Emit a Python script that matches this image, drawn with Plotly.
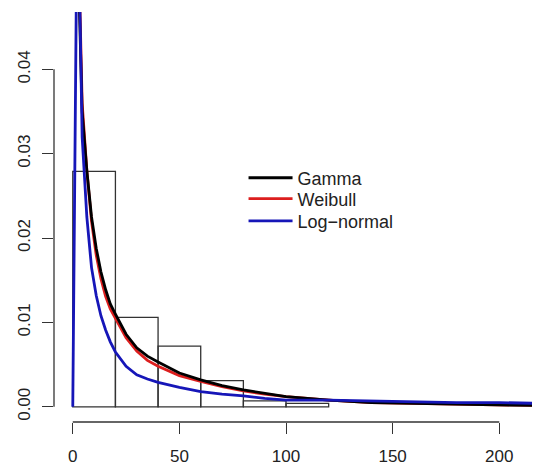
import plotly.graph_objects as go

# histograma (densidade)
breaks = [0, 20, 40, 60, 80, 100, 120]
dens = [0.0279, 0.0106, 0.0072, 0.0031, 0.0007, 0.0004]

# curvas
xs = [2.2, 4.4, 6.6, 8.8, 11, 13.2, 15.4, 17.6, 20, 25, 30, 35, 40, 50, 60,
      70, 80, 90, 100, 120, 140, 160, 180, 200, 220]
gamma = [0.056, 0.035, 0.028, 0.0225, 0.0188, 0.0160, 0.0139, 0.0122, 0.0110,
         0.0086, 0.0070, 0.0060, 0.0053, 0.0040, 0.0032, 0.0025, 0.0020,
         0.0016, 0.0012, 0.0008, 0.0005, 0.0004, 0.0003, 0.0002, 0.00015]
weibull = [0.060, 0.036, 0.028, 0.0220, 0.0180, 0.0152, 0.0131, 0.0116, 0.0105,
           0.0082, 0.0066, 0.0055, 0.0048, 0.0037, 0.0030, 0.0024, 0.0019,
           0.0015, 0.0012, 0.0008, 0.0005, 0.0004, 0.0003, 0.0002, 0.00015]
xs_ln = [0] + xs
lognorm = [0, 0.064, 0.032, 0.0225, 0.0165, 0.0132, 0.0108, 0.0091, 0.0077,
           0.0065, 0.0048, 0.0038, 0.0033, 0.0029, 0.0023, 0.0018, 0.0015,
           0.0013, 0.0010, 0.0008, 0.0008, 0.0007, 0.0006, 0.0005, 0.0005, 0.0004]

xticks = [0, 50, 100, 150, 200]
yticks = [0.00, 0.01, 0.02, 0.03, 0.04]

mids = [(breaks[i] + breaks[i + 1]) / 2 for i in range(len(dens))]
fig = go.Figure()
fig.add_trace(go.Bar(x=mids, y=dens, width=20, showlegend=False,
                     marker=dict(color='rgba(0,0,0,0)',
                                 line=dict(color='#333333', width=1.3))))
fig.add_trace(go.Scatter(x=xs, y=weibull, mode='lines', name='Weibull',
                         legend='legend2', line=dict(color='#dc1e1e', width=2.8)))
fig.add_trace(go.Scatter(x=xs, y=gamma, mode='lines', name='Gamma',
                         legend='legend', line=dict(color='#000000', width=2.8)))
fig.add_trace(go.Scatter(x=xs_ln, y=lognorm, mode='lines', name='Log−normal',
                         legend='legend3', line=dict(color='#1616b8', width=2.8)))

# eixos no estilo R (linha so ate o ultimo tick)
fig.add_shape(type='line', xref='paper', yref='y', x0=0, x1=0,
              y0=yticks[0], y1=yticks[-1], line=dict(color='#333333', width=1.3))
fig.add_shape(type='line', xref='x', yref='paper', y0=0, y1=0,
              x0=xticks[0], x1=xticks[-1], line=dict(color='#333333', width=1.3))

fig.update_xaxes(range=[-8.8, 219.1], tickvals=xticks,
                 ticktext=[str(v) for v in xticks], ticks='outside', ticklen=11,
                 tickwidth=1.3, tickcolor='#333333', showgrid=False,
                 zeroline=False, showline=False, ticklabelstandoff=8,
                 automargin=False)
fig.update_yaxes(range=[-0.0018, 0.0468], tickvals=yticks,
                 ticktext=['%.2f' % v for v in yticks], ticks='outside',
                 ticklen=11, tickwidth=1.3, tickcolor='#333333', tickangle=-90,
                 showgrid=False, zeroline=False, showline=False,
                 ticklabelstandoff=5, automargin=False)

# a pagina tem margem de 8px no body, por isso a figura e um pouco menor
leg = dict(x=0.39, xanchor='left', yanchor='middle', bgcolor='rgba(0,0,0,0)',
           font=dict(size=18), itemwidth=44)
fig.update_layout(width=532, height=458,
                  margin=dict(l=46, r=0, t=4, b=44),
                  plot_bgcolor='white', paper_bgcolor='white',
                  font=dict(family='Liberation Sans, Arial', size=17, color='#222222'),
                  barmode='overlay',
                  legend=dict(leg, y=0.595),
                  legend2=dict(leg, y=0.544),
                  legend3=dict(leg, y=0.49))

fig.write_html("out.html")
